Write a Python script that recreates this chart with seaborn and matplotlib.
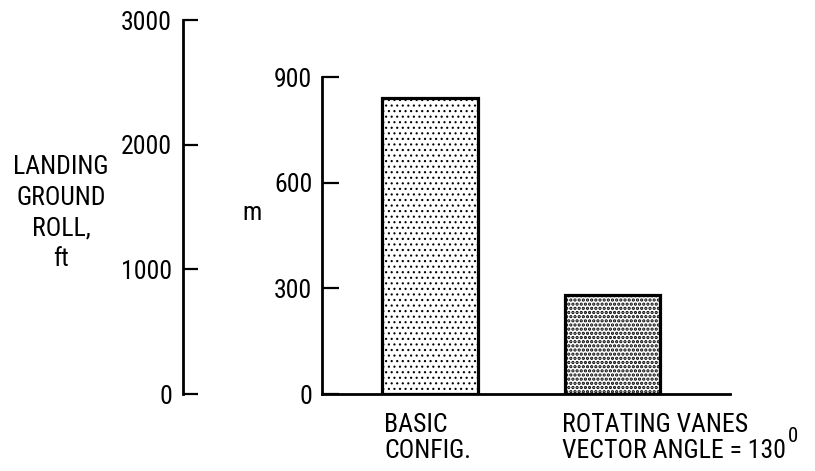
import matplotlib
matplotlib.use("Agg")
import matplotlib.pyplot as plt
import seaborn as sns
import pandas as pd

# Landing ground roll for the two configurations (metres)
configs = ["BASIC\nCONFIG.", "ROTATING VANES\nVECTOR ANGLE = 130"]
roll_m = [840, 280]
m_ticks = [0, 300, 600, 900]
ft_ticks = [0, 1000, 2000, 3000]
y_title = "LANDING\nGROUND\nROLL,\nft"
m_title = "m"
angle_sup = "0"

hatches = ["...", "...."]
hatch_widths = [0.8, 1.6]
label_dx = [2, -3]  # horizontal nudge of each category label, in pixels

sns.set_theme(style="white")
plt.rcParams["font.family"] = ["Roboto Condensed", "Liberation Sans Narrow",
                               "Liberation Sans", "DejaVu Sans"]
plt.rcParams["text.color"] = "black"
plt.rcParams["hatch.linewidth"] = 0.8
FS = 18.5

W, H = 815, 471
fig = plt.figure(figsize=(W / 100, H / 100), dpi=100)

ax_m = fig.add_axes([322 / W, 77 / H, 408 / W, 317 / H])
ax_ft = fig.add_axes([183 / W, 77 / H, 40 / W, 374 / H])

df = pd.DataFrame({"config": configs, "roll": roll_m})
sns.barplot(data=df, x="config", y="roll", ax=ax_m, width=0.52,
            color="white", saturation=1, edgecolor="black", linewidth=2.3,
            errorbar=None)
for patch, h, hw in zip(ax_m.patches, hatches, hatch_widths):
    patch.set_hatch(h)
    if hasattr(patch, "set_hatch_linewidth"):
        patch.set_hatch_linewidth(hw)
    patch.set_zorder(3)

# metric axis
ax_m.set_xlim(-0.59, 1.64)
ax_m.set_ylim(0, 900)
ax_m.set_yticks(m_ticks)
ax_m.set_yticklabels([str(t) for t in m_ticks], fontsize=FS)
ax_m.set_xticks([])
ax_m.set_xlabel("")
ax_m.set_ylabel("")
ax_m.tick_params(axis="y", direction="in", length=12, width=1.6, pad=7, left=True,
                 colors="black")
for s in ("top", "right"):
    ax_m.spines[s].set_visible(False)
for s in ("left", "bottom"):
    ax_m.spines[s].set_linewidth(2)
    ax_m.spines[s].set_color("black")
ax_m.patch.set_visible(False)

# category labels under the bars
label_artists = []
for i, (name, dx) in enumerate(zip(configs, label_dx)):
    t = ax_m.annotate(name, xy=(i - 0.26, 0), xycoords="data",
                      xytext=(dx * 0.72, -14), textcoords="offset points",
                      ha="left", va="top", fontsize=FS, linespacing=1.08,
                      color="black", annotation_clip=False)
    label_artists.append(t)
ax_m.annotate(angle_sup, xy=(1, 0.54), xycoords=label_artists[1],
              xytext=(1.5, 0), textcoords="offset points",
              ha="left", va="center", fontsize=15, color="black")

# imperial axis
ax_ft.set_ylim(0, 3000)
ax_ft.set_yticks(ft_ticks)
ax_ft.set_yticklabels([str(t) for t in ft_ticks], fontsize=FS)
ax_ft.set_xticks([])
ax_ft.tick_params(axis="y", direction="in", length=11, width=1.6, pad=8, left=True,
                  colors="black")
for s in ("top", "right", "bottom"):
    ax_ft.spines[s].set_visible(False)
ax_ft.spines["left"].set_linewidth(2)
ax_ft.spines["left"].set_color("black")
ax_ft.patch.set_visible(False)

fig.text(61 / W, 1 - 213 / H, y_title, ha="center", va="center",
         multialignment="center", fontsize=FS, linespacing=1.36, color="black")
fig.text(252 / W, 1 - 213 / H, m_title, ha="center", va="center", fontsize=FS,
         color="black")

fig.savefig("out.png", dpi=100)
